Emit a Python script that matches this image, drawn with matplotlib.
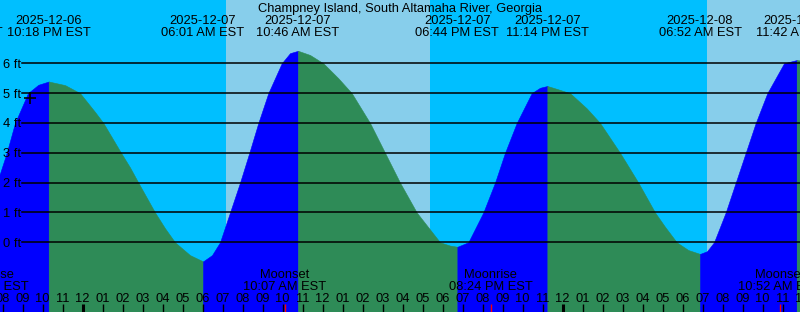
"""
Tide chart for Champney Island, South Altamaha River, Georgia
Run: python plot.py
"""

import numpy as np
import pandas as pd
import matplotlib
matplotlib.use('Agg')
import matplotlib.pyplot as plt

plt.rcParams['font.family'] = ['Liberation Sans', 'DejaVu Sans']

BASE = pd.Timestamp('2025-12-07 00:00')

# tide curve, hours after 2025-12-07 00:00 EST, height in ft
tide_hours = [-6.1, -4.535, -4.135, -3.800, -3.385, -2.735, -2.220, -1.700, -0.885, -0.135,
              0.615, 1.030, 1.915, 2.365, 2.780, 3.615, 4.115, 4.615, 5.365, 6.017,
              6.465, 6.865, 7.365, 7.865, 8.330, 8.780, 9.280, 9.950, 10.365, 10.767,
              11.365, 12.030, 12.780, 13.450, 14.365, 15.115, 15.865, 16.700, 17.865, 18.365,
              18.733, 19.280, 20.030, 20.615, 21.115, 21.700, 22.450, 22.865, 23.233, 23.765,
              24.365, 25.200, 25.865, 26.865, 27.780, 28.615, 29.115, 29.700, 30.280, 30.867,
              31.215, 31.565, 32.150, 32.650, 33.150, 33.650, 34.230, 35.065, 35.700, 36.365]
tide_feet = [-0.3, 1.95, 2.31, 3.0, 4.0, 5.0, 5.28, 5.39, 5.27, 5.0,
             4.37, 4.0, 3.0, 2.51, 2.0, 1.0, 0.47, 0.0, -0.43, -0.64,
             -0.43, 0.0, 1.0, 2.0, 3.0, 4.0, 5.0, 6.0, 6.34, 6.42,
             6.28, 6.0, 5.5, 5.0, 4.0, 3.0, 2.0, 1.0, 0.0, -0.11,
             -0.15, 0.0, 1.0, 2.0, 3.0, 4.0, 5.0, 5.18, 5.24, 5.13,
             5.0, 4.49, 4.0, 3.0, 2.0, 1.0, 0.52, 0.0, -0.26, -0.39,
             -0.3, 0.0, 1.0, 2.0, 3.0, 4.0, 5.0, 6.0, 6.11, 6.05]

extreme_kind = ['L', 'H', 'L', 'H', 'L', 'H', 'L', 'H']
extreme_stamp = ['2025-12-06 17:54', '2025-12-06 22:18', '2025-12-07 06:01', '2025-12-07 10:46',
                 '2025-12-07 18:44', '2025-12-07 23:14', '2025-12-08 06:52', '2025-12-08 11:42']

# daylight
sunrise = ['2025-12-07 07:10', '2025-12-08 07:12']
sunset = ['2025-12-07 17:22', '2025-12-08 17:23']

moon_events = ['Moonrise', 'Moonset', 'Moonrise', 'Moonset']
moon_stamp = ['2025-12-06 19:13', '2025-12-07 10:07', '2025-12-07 20:24', '2025-12-08 10:52']

now_stamp = '2025-12-06 21:22'
now_feet = 4.85

ft_levels = [0, 1, 2, 3, 4, 5, 6]
title = 'Champney Island, South Altamaha River, Georgia'

NIGHT = '#00BFFF'
DAY = '#87CEEB'
FLOOD = '#0000FF'
EBB = '#2E8B57'
W, H = 800, 312


def hrs(stamps):
    ts = pd.to_datetime(pd.Series(stamps))
    return ((ts - BASE).dt.total_seconds() / 3600.0).to_numpy()


def yfrac(px):
    return 1 - px / H


def main():
    t = np.array(tide_hours)
    v = np.array(tide_feet)
    ext_h = hrs(extreme_stamp)

    fig = plt.figure(figsize=(8, 3.12), dpi=100, facecolor=NIGHT)
    ax = fig.add_axes([0, 0, 1, 1])
    ax.set_axis_off()
    xlim = (-82.7 / 20, (W - 82.7) / 20)
    ylim = ((242.3 - H) / 29.83, 242.3 / 29.83)
    ax.set_xlim(*xlim)
    ax.set_ylim(*ylim)
    xt = ax.get_xaxis_transform()

    # day background
    for a, b in zip(hrs(sunrise), hrs(sunset)):
        ax.axvspan(a, b, color=DAY, lw=0, zorder=0)

    # rising / falling fill, split at the curve point nearest each extreme
    cuts = [0] + [int(np.argmin(np.abs(t - h))) for h in ext_h] + [len(t) - 1]
    kinds = list(extreme_kind) + ['L']
    for i in range(len(cuts) - 1):
        a, b = cuts[i], cuts[i + 1]
        if b - a < 1:
            continue
        col = FLOOD if kinds[i] == 'H' else EBB
        ax.fill_between(t[a:b + 1], v[a:b + 1], ylim[0], color=col, lw=0.4,
                        edgecolor=col, zorder=1)

    # grid lines + labels
    for lv in ft_levels:
        ax.axhline(lv, xmin=22 / W, xmax=1, color='black', lw=1.1, zorder=2)
        ax.text(2.7 / W, lv - 4.4 / 29.83, f'{lv} ft', transform=ax.get_yaxis_transform(),
                ha='left', va='baseline', fontsize=9.3, zorder=3)

    # current time marker
    ax.plot(hrs([now_stamp]), [now_feet], marker='+', ms=9, mew=1.2, color='black', zorder=3)

    # title and tide event labels
    ax.text(0.5, yfrac(11.7), title, transform=ax.transAxes, ha='center', va='baseline', fontsize=9.3)
    for st, h in zip(extreme_stamp, ext_h):
        ts = pd.Timestamp(st)
        ax.text(h, yfrac(24.3), ts.strftime('%Y-%m-%d'), transform=xt, ha='center',
                va='baseline', fontsize=9.3)
        ax.text(h, yfrac(36), ts.strftime('%I:%M %p') + ' EST', transform=xt, ha='center',
                va='baseline', fontsize=9.3)

    # hour ticks
    for hh in range(int(np.floor(xlim[0])), int(np.ceil(xlim[1])) + 1):
        midnight = hh % 24 == 0
        ax.plot([hh, hh], [0, 8 / H], transform=xt, color='black',
                lw=2.2 if midnight else 1.0, solid_capstyle='butt', zorder=4)
        ax.text(hh, yfrac(302.3), f'{(hh % 12) or 12:02d}', transform=xt, ha='center',
                va='baseline', fontsize=9.3, zorder=4)

    # moon events
    for name, st, h in zip(moon_events, moon_stamp, hrs(moon_stamp)):
        ts = pd.Timestamp(st)
        ax.plot([h, h], [0, 8 / H], transform=xt, color='red', lw=1.0,
                solid_capstyle='butt', zorder=5)
        ax.text(h, yfrac(277.7), name, transform=xt, ha='center', va='baseline', fontsize=9.3)
        ax.text(h, yfrac(290), ts.strftime('%I:%M %p') + ' EST', transform=xt, ha='center',
                va='baseline', fontsize=9.3)

    fig.savefig('out.png', dpi=100, facecolor=NIGHT)


if __name__ == '__main__':
    main()
